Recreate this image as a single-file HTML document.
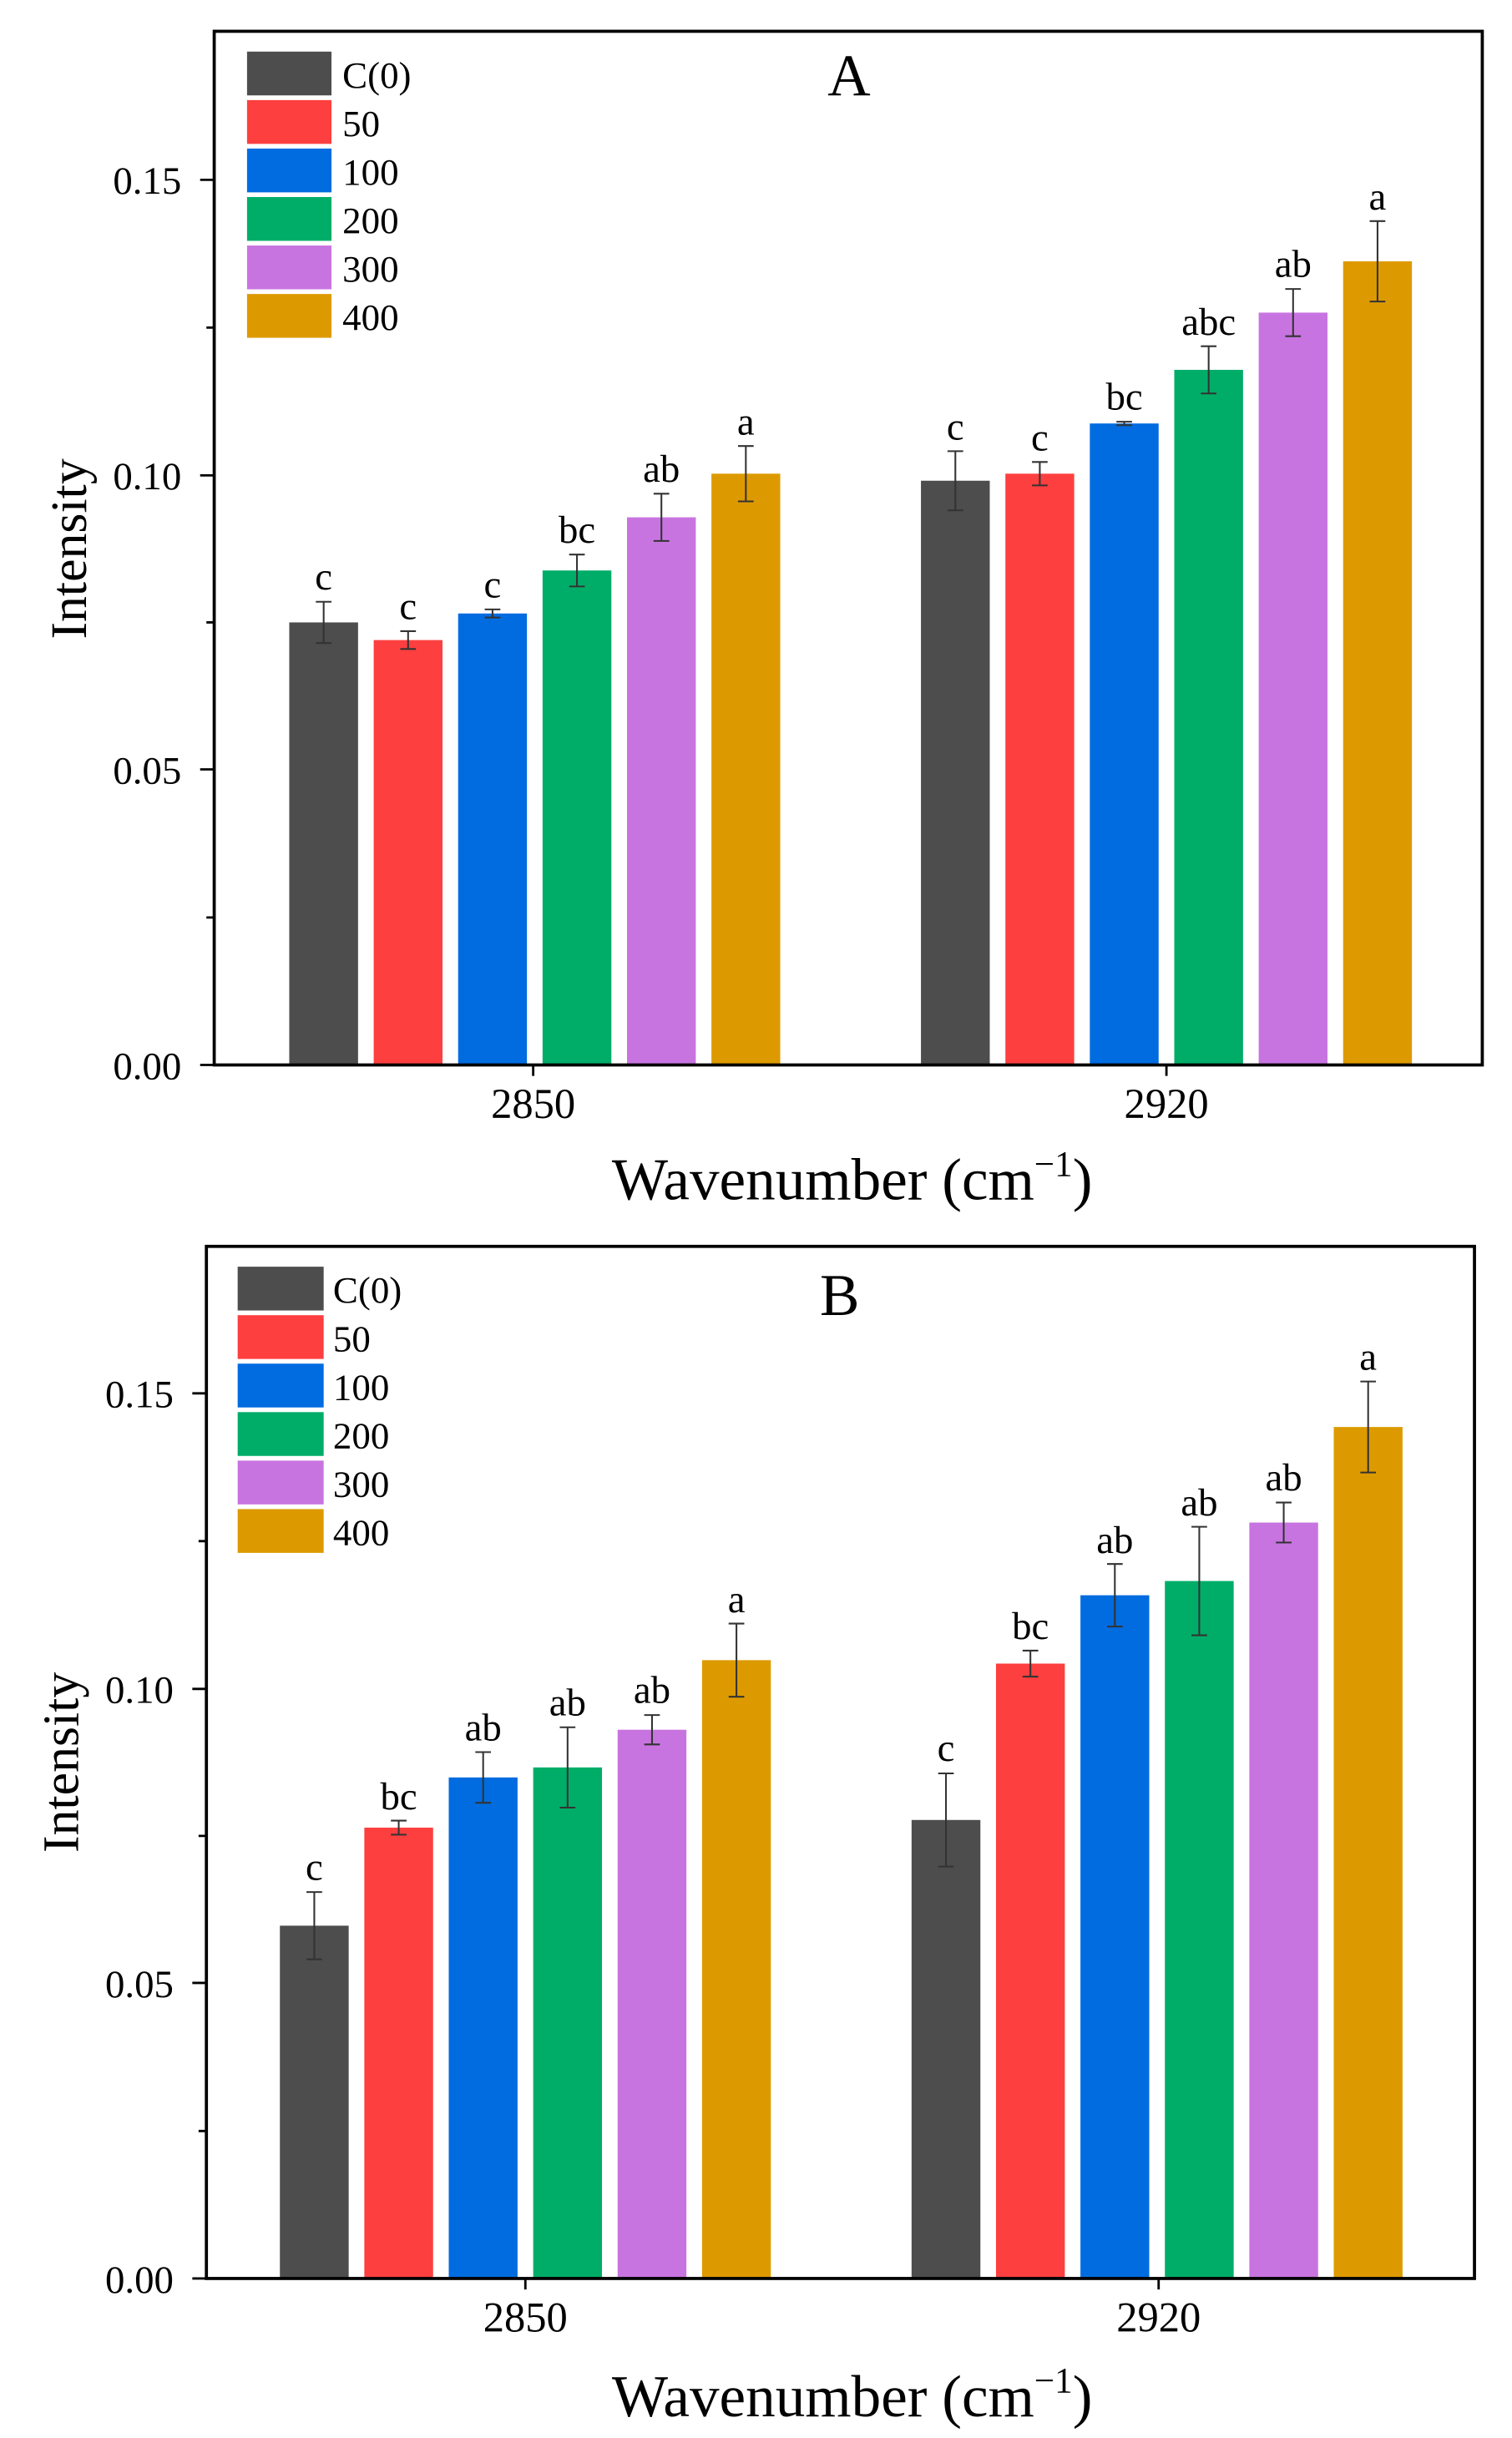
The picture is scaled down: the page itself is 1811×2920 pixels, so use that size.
<!DOCTYPE html>
<html><head><meta charset="utf-8"><style>html,body{margin:0;padding:0;background:#fff}svg{display:block}</style></head>
<body>
<svg width="1811" height="2920" viewBox="0 0 967 1559" preserveAspectRatio="none" xmlns="http://www.w3.org/2000/svg" font-family="Liberation Serif, serif">
<rect width="967" height="1559" fill="#fff"/>
<!-- PANEL A -->
<g>
<g fill="#4d4d4d"><rect x="185" y="398" width="44" height="283"/><rect x="589" y="307.4" width="44" height="373.6"/></g>
<g fill="#fd3f3f"><rect x="239" y="409.3" width="44" height="271.7"/><rect x="643" y="302.9" width="44" height="378.1"/></g>
<g fill="#006ce0"><rect x="293" y="392.3" width="44" height="288.7"/><rect x="697" y="270.8" width="44" height="410.2"/></g>
<g fill="#00ad68"><rect x="347" y="364.8" width="44" height="316.2"/><rect x="751" y="236.5" width="44" height="444.5"/></g>
<g fill="#c874e0"><rect x="401" y="330.8" width="44" height="350.2"/><rect x="805" y="199.9" width="44" height="481.1"/></g>
<g fill="#dd9a00"><rect x="455" y="302.9" width="44" height="378.1"/><rect x="859" y="167.1" width="44" height="513.9"/></g>
<g stroke="#333" stroke-width="1.1" fill="none">
<path d="M207 384.8V411.2M202 384.8H212M202 411.2H212"/>
<path d="M261 403.6V415M256 403.6H266M256 415H266"/>
<path d="M315 389.7V394.9M310 389.7H320M310 394.9H320"/>
<path d="M369 354.6V375M364 354.6H374M364 375H374"/>
<path d="M423 315.7V345.9M418 315.7H428M418 345.9H428"/>
<path d="M477 285.2V320.6M472 285.2H482M472 320.6H482"/>
<path d="M611 288.5V326.3M606 288.5H616M606 326.3H616"/>
<path d="M665 295.4V310.4M660 295.4H670M660 310.4H670"/>
<path d="M719 269.7V271.9M714 269.7H724M714 271.9H724"/>
<path d="M773 221.4V251.6M768 221.4H778M768 251.6H778"/>
<path d="M827 184.8V215M822 184.8H832M822 215H832"/>
<path d="M881 141.4V192.8M876 141.4H886M876 192.8H886"/>
</g>
<g font-size="25" text-anchor="middle" fill="#000">
<text x="207" y="377">c</text><text x="261" y="396">c</text><text x="315" y="382">c</text><text x="369" y="347">bc</text><text x="423" y="308">ab</text><text x="477" y="278">a</text>
<text x="611" y="281">c</text><text x="665" y="288">c</text><text x="719" y="262">bc</text><text x="773" y="214">abc</text><text x="827" y="177">ab</text><text x="881" y="134">a</text>
</g>
<rect x="137" y="20" width="811" height="661" fill="none" stroke="#000" stroke-width="2"/>
<g stroke="#000" stroke-width="1.5">
<path d="M137 681H128M137 492H128M137 304H128M137 115H128"/>
<path d="M137 586.7H132M137 398H132M137 209.5H132"/>
<path d="M341 681V688M746 681V688"/>
</g>
<g font-size="25" text-anchor="end" fill="#000">
<text x="116" y="690">0.00</text><text x="116" y="501">0.05</text><text x="116" y="313">0.10</text><text x="116" y="124">0.15</text>
</g>
<g font-size="27" text-anchor="middle"><text x="341" y="715">2850</text><text x="746" y="715">2920</text></g>
<text x="545" y="767" font-size="38" text-anchor="middle">Wavenumber (cm<tspan dy="-15" font-size="23">−1</tspan><tspan dy="15">)</tspan></text>
<text transform="translate(55,351) rotate(-90)" font-size="33" text-anchor="middle">Intensity</text>
<text x="543" y="61" font-size="38" text-anchor="middle">A</text>
<rect x="158" y="33" width="54" height="28" fill="#4d4d4d"/><rect x="158" y="64" width="54" height="28" fill="#fd3f3f"/><rect x="158" y="95" width="54" height="28" fill="#006ce0"/><rect x="158" y="126" width="54" height="28" fill="#00ad68"/><rect x="158" y="157" width="54" height="28" fill="#c874e0"/><rect x="158" y="188" width="54" height="28" fill="#dd9a00"/>
<g font-size="24"><text x="219" y="56">C(0)</text><text x="219" y="87">50</text><text x="219" y="118">100</text><text x="219" y="149">200</text><text x="219" y="180">300</text><text x="219" y="211">400</text></g>
</g>
<!-- PANEL B -->
<g>
<g fill="#4d4d4d"><rect x="179" y="1231.4" width="44" height="225.6"/><rect x="583" y="1163.8" width="44" height="293.2"/></g>
<g fill="#fd3f3f"><rect x="233" y="1168.7" width="44" height="288.3"/><rect x="637" y="1063.8" width="44" height="393.2"/></g>
<g fill="#006ce0"><rect x="287" y="1136.6" width="44" height="320.4"/><rect x="691" y="1020.1" width="44" height="436.9"/></g>
<g fill="#00ad68"><rect x="341" y="1130.2" width="44" height="326.8"/><rect x="745" y="1011" width="44" height="446"/></g>
<g fill="#c874e0"><rect x="395" y="1106.1" width="44" height="350.9"/><rect x="799" y="973.6" width="44" height="483.4"/></g>
<g fill="#dd9a00"><rect x="449" y="1061.6" width="44" height="395.4"/><rect x="853" y="912.5" width="44" height="544.5"/></g>
<g stroke="#333" stroke-width="1.1" fill="none">
<path d="M201 1209.9V1252.9M196 1209.9H206M196 1252.9H206"/>
<path d="M255 1164.2V1173.2M250 1164.2H260M250 1173.2H260"/>
<path d="M309 1120.4V1152.8M304 1120.4H314M304 1152.8H314"/>
<path d="M363 1104.5V1155.9M358 1104.5H368M358 1155.9H368"/>
<path d="M417 1096.7V1115.5M412 1096.7H422M412 1115.5H422"/>
<path d="M471 1038.2V1085M466 1038.2H476M466 1085H476"/>
<path d="M605 1134V1193.6M600 1134H610M600 1193.6H610"/>
<path d="M659 1055.5V1072.1M654 1055.5H664M654 1072.1H664"/>
<path d="M713 1000.1V1040.1M708 1000.1H718M708 1040.1H718"/>
<path d="M767 976.3V1045.7M762 976.3H772M762 1045.7H772"/>
<path d="M821 960.8V986.4M816 960.8H826M816 986.4H826"/>
<path d="M875 883.4V941.6M870 883.4H880M870 941.6H880"/>
</g>
<g font-size="25" text-anchor="middle" fill="#000">
<text x="201" y="1202">c</text><text x="255" y="1157">bc</text><text x="309" y="1113">ab</text><text x="363" y="1097">ab</text><text x="417" y="1089">ab</text><text x="471" y="1031">a</text>
<text x="605" y="1126">c</text><text x="659" y="1048">bc</text><text x="713" y="993">ab</text><text x="767" y="969">ab</text><text x="821" y="953">ab</text><text x="875" y="876">a</text>
</g>
<rect x="132" y="797" width="811" height="660" fill="none" stroke="#000" stroke-width="2"/>
<g stroke="#000" stroke-width="1.5">
<path d="M132 1457H123M132 1268H123M132 1080H123M132 891H123"/>
<path d="M132 1362.7H127M132 1174H127M132 985.5H127"/>
<path d="M336 1457V1464M741 1457V1464"/>
</g>
<g font-size="25" text-anchor="end" fill="#000">
<text x="111" y="1466">0.00</text><text x="111" y="1277">0.05</text><text x="111" y="1089">0.10</text><text x="111" y="900">0.15</text>
</g>
<g font-size="27" text-anchor="middle"><text x="336" y="1491">2850</text><text x="741" y="1491">2920</text></g>
<text x="545" y="1545" font-size="38" text-anchor="middle">Wavenumber (cm<tspan dy="-15" font-size="23">−1</tspan><tspan dy="15">)</tspan></text>
<text transform="translate(50,1127) rotate(-90)" font-size="33" text-anchor="middle">Intensity</text>
<text x="537" y="841" font-size="38" text-anchor="middle">B</text>
<rect x="152" y="810" width="55" height="28" fill="#4d4d4d"/><rect x="152" y="841" width="55" height="28" fill="#fd3f3f"/><rect x="152" y="872" width="55" height="28" fill="#006ce0"/><rect x="152" y="903" width="55" height="28" fill="#00ad68"/><rect x="152" y="934" width="55" height="28" fill="#c874e0"/><rect x="152" y="965" width="55" height="28" fill="#dd9a00"/>
<g font-size="24"><text x="213" y="833">C(0)</text><text x="213" y="864">50</text><text x="213" y="895">100</text><text x="213" y="926">200</text><text x="213" y="957">300</text><text x="213" y="988">400</text></g>
</g>
</svg>
</body></html>
